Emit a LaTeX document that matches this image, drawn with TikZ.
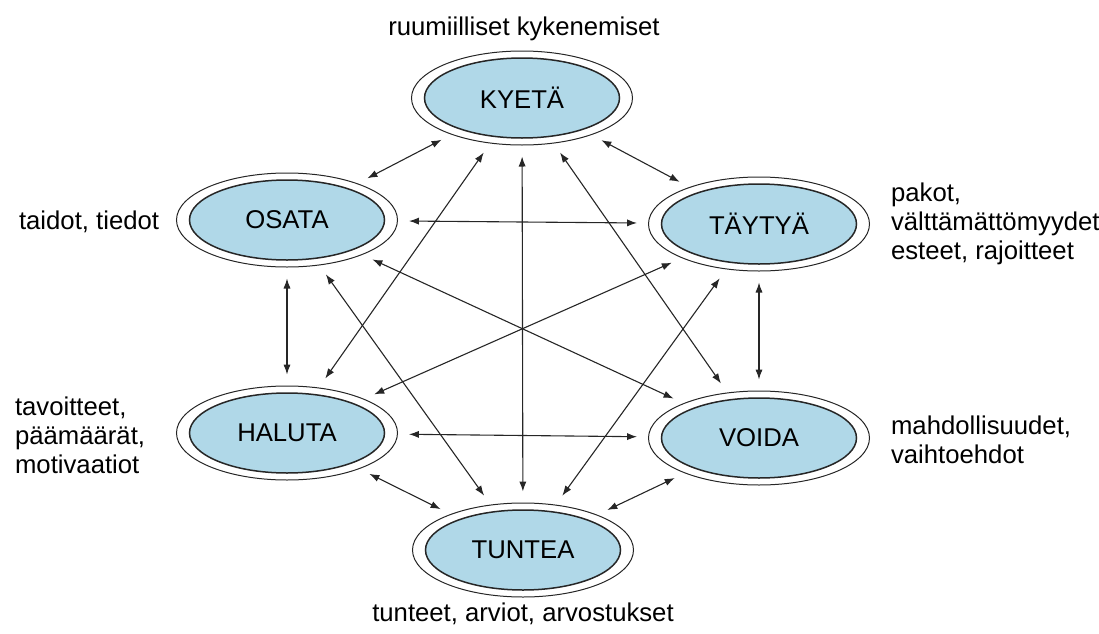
\documentclass[tikz,border=0pt]{standalone}
\usepackage{fontspec}
\setmainfont{Liberation Sans}
\usetikzlibrary{shapes.geometric, arrows.meta}
\tikzset{>={Latex[length=5pt, width=3.6pt]}}
\definecolor{clb}{RGB}{176, 216, 232}
\definecolor{cvv}{gray}{.15}
\tikzset{
	ulko/.style={draw=cvv, ellipse, minimum width=110.5pt, minimum height=47pt, inner sep=0pt, line width=.5pt},
	sisa/.style={draw=cvv, fill=clb, ellipse, minimum width=97.5pt, minimum height=40pt, inner sep=0pt, line width=.75pt},
	yhteys/.style={<->, draw=cvv, line width=.55pt, shorten >=5.5pt, shorten <=5.5pt},
	selite/.style={align=left, anchor=west}
}
\newcommand{\tila}[3]{
	\node[ulko](#1)at(#2){};
	\node[sisa](#1-s)at(#2){#3};
}

\begin{document}
\begin{tikzpicture}[x=.5pt, y=-.5pt, font=\fontsize{12.85}{14.5}\selectfont]
    \useasboundingbox(0, 0)rectangle(1099, 633);
    \tila{kyeta}{522, 98}{KYETÄ};
    \tila{osata}{287, 220}{OSATA};
    \tila{taytya}{759, 224}{TÄYTYÄ};
    \tila{haluta}{287, 433}{HALUTA};
    \tila{voida}{759, 438}{VOIDA};
    \tila{tuntea}{523, 550}{TUNTEA};
    \foreach \a/\b in {kyeta/osata, kyeta/taytya, kyeta/haluta, kyeta/tuntea, kyeta/voida,
        osata/taytya, osata/haluta, osata/tuntea, osata/voida,
        taytya/haluta, taytya/tuntea, taytya/voida,
        haluta/voida, haluta/tuntea, voida/tuntea}
        \draw[yhteys](\a)--(\b);
    \node(kyky)at(524, 29){ruumiilliset kykenemiset};
    \node[selite](taito)at(12, 222){taidot, tiedot};
    \node[selite](tavoite)at(8, 435){tavoitteet,\\päämäärät,\\motivaatiot};
    \node[selite](pakko)at(884, 224){pakot,\\välttämättömyydet\\esteet, rajoitteet};
    \node[selite](mahd)at(884, 440){mahdollisuudet,\\vaihtoehdot};
    \node(tunne)at(523, 614){tunteet, arviot, arvostukset};
\end{tikzpicture}
\end{document}
